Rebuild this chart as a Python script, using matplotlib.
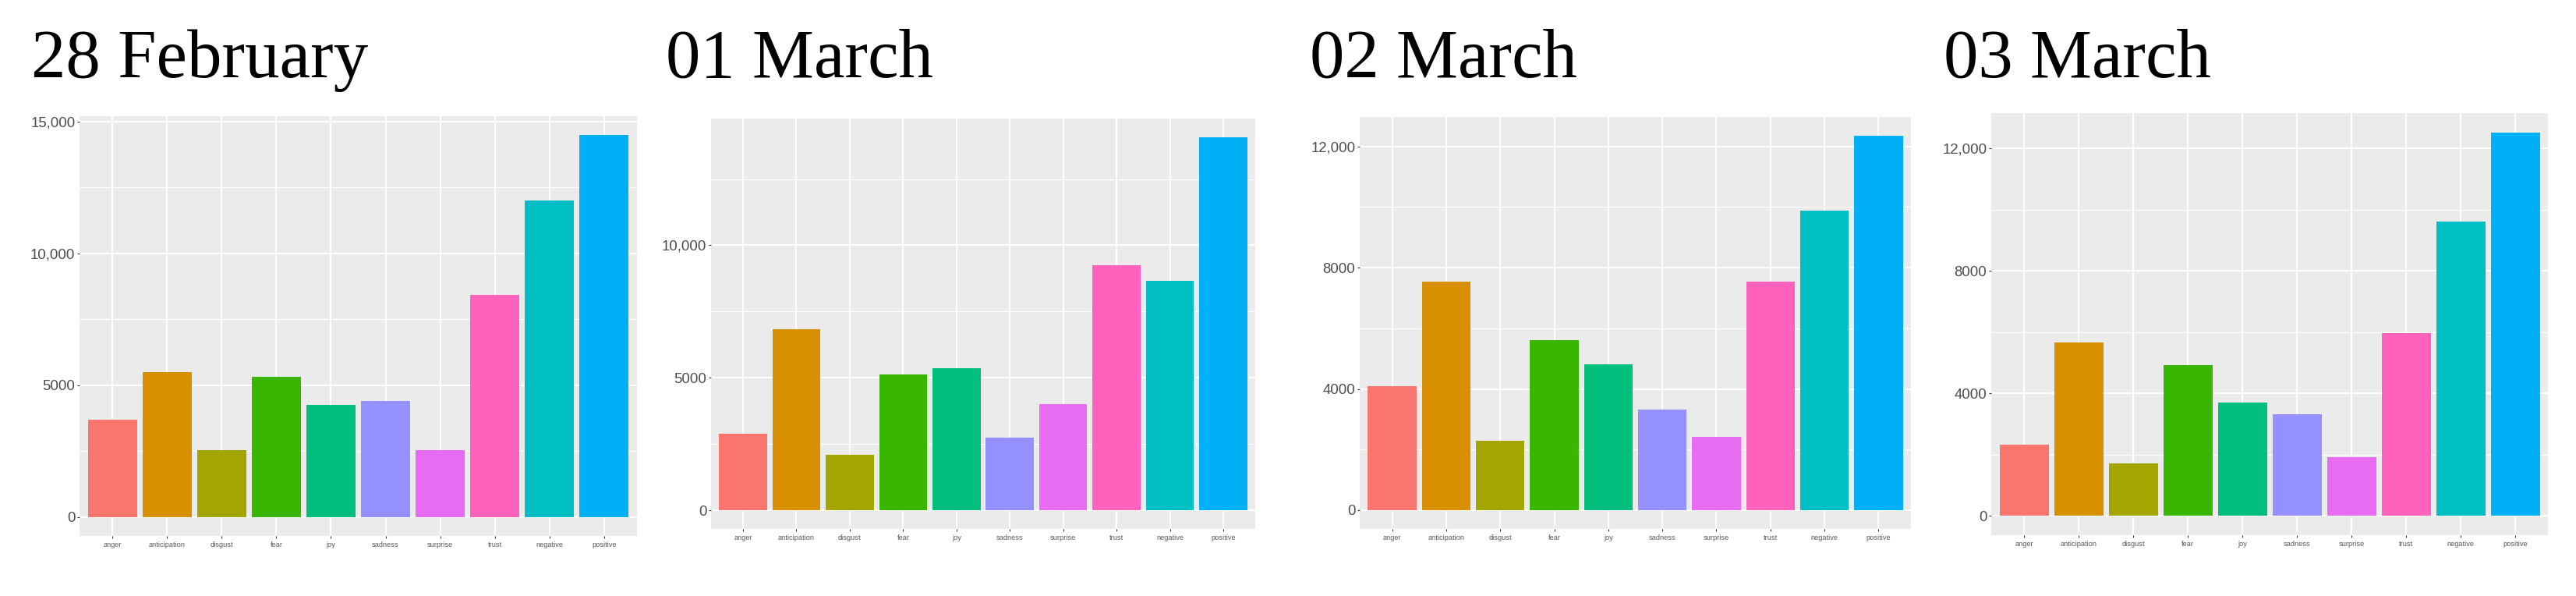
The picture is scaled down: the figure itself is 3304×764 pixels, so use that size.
import matplotlib
matplotlib.use("Agg")
import matplotlib.pyplot as plt
from matplotlib.ticker import FixedLocator

# ---- data ----
categories = ["anger", "anticipation", "disgust", "fear", "joy",
              "sadness", "surprise", "trust", "negative", "positive"]

titles = ["28 February", "01 March", "02 March", "03 March"]

values_feb28 = [3680, 5480, 2520, 5320, 4240, 4400, 2520, 8420, 12000, 14480]
values_mar01 = [2900, 6820, 2090, 5130, 5370, 2740, 4010, 9240, 8670, 14080]
values_mar02 = [4080, 7550, 2280, 5620, 4800, 3320, 2410, 7550, 9870, 12350]
values_mar03 = [2340, 5670, 1720, 4920, 3715, 3315, 1930, 5960, 9625, 12530]

yticks_feb28 = [0, 5000, 10000, 15000]
ylabels_feb28 = ["0", "5000", "10,000", "15,000"]
yticks_mar01 = [0, 5000, 10000]
ylabels_mar01 = ["0", "5000", "10,000"]
yticks_mar02 = [0, 4000, 8000, 12000]
ylabels_mar02 = ["0", "4000", "8000", "12,000"]
yticks_mar03 = [0, 4000, 8000, 12000]
ylabels_mar03 = ["0", "4000", "8000", "12,000"]

bar_colors = ["#F8766D", "#D89000", "#A3A500", "#39B600", "#00BF7D",
              "#9590FF", "#E76BF3", "#FF62BC", "#00BFC4", "#00B0F6"]

series = [values_feb28, values_mar01, values_mar02, values_mar03]
yticks_all = [yticks_feb28, yticks_mar01, yticks_mar02, yticks_mar03]
ylabels_all = [ylabels_feb28, ylabels_mar01, ylabels_mar02, ylabels_mar03]

# ---- layout (pixels in 3304x764 canvas) ----
W, H = 3304, 764
panel_px = [(102, 817, 149, 687), (912, 1610, 152, 678),
            (1744, 2451, 150, 678), (2554, 3268, 145, 686)]
title_x = [40, 854, 1680, 2493]
title_base = 99

fig = plt.figure(figsize=(W / 100, H / 100), dpi=100)
fig.patch.set_facecolor("white")

for i in range(4):
    x0, x1, y0, y1 = panel_px[i]
    ax = fig.add_axes([x0 / W, 1 - y1 / H, (x1 - x0) / W, (y1 - y0) / H])
    vals = series[i]
    ax.set_facecolor("#EBEBEB")
    for s in ax.spines.values():
        s.set_visible(False)
    xpos = list(range(len(categories)))
    ax.bar(xpos, vals, width=0.9, color=bar_colors, zorder=3)
    vmax = max(vals)
    ax.set_ylim(-0.05 * vmax, 1.05 * vmax)
    ax.set_xlim(-0.6, len(categories) - 0.4)
    ax.set_xticks(xpos)
    ax.set_xticklabels(categories, fontsize=6.7, color="#5A5A5A",
                       family="Liberation Sans")
    yt = yticks_all[i]
    ax.set_yticks(yt)
    ax.set_yticklabels(ylabels_all[i], fontsize=13.4, color="#4D4D4D",
                       family="Liberation Sans")
    step = yt[1] - yt[0]
    minors = [t + step / 2 for t in yt if t + step / 2 < 1.05 * vmax]
    ax.yaxis.set_minor_locator(FixedLocator(minors))
    ax.tick_params(axis="both", which="major", length=2.5, width=0.8,
                   color="#333333", pad=1.5)
    ax.tick_params(axis="x", which="major", pad=2.5)
    ax.tick_params(axis="y", which="minor", length=0)
    ax.grid(True, which="major", color="white", linewidth=1.5, zorder=1)
    ax.grid(True, which="minor", axis="y", color="white", linewidth=0.8, zorder=1)
    ax.set_axisbelow(True)

    fig.text(title_x[i] / W, 1 - title_base / H, titles[i],
             fontsize=64, family="Liberation Serif", color="black",
             ha="left", va="baseline")

fig.savefig("out.png", dpi=100, facecolor="white")
